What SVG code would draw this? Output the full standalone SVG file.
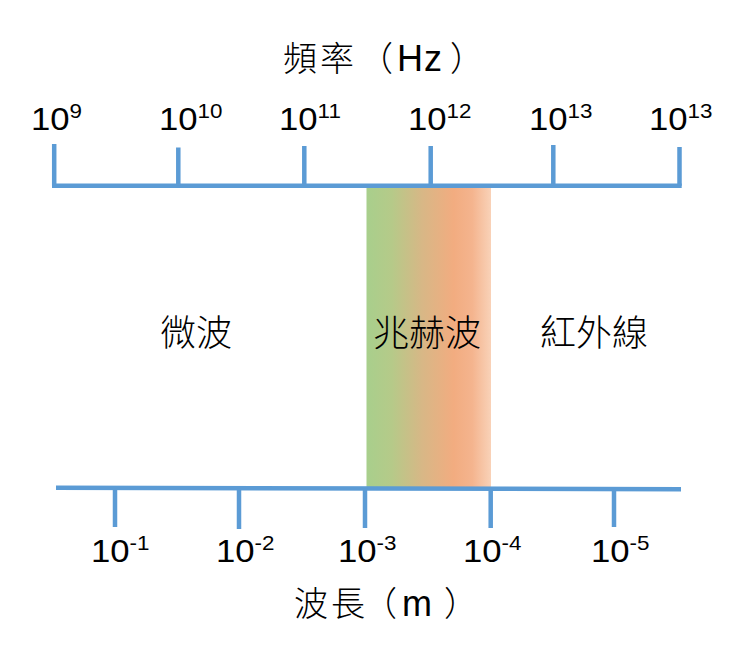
<svg xmlns="http://www.w3.org/2000/svg" width="740" height="666" viewBox="0 0 740 666">
<defs>
<linearGradient id="thz" x1="0" y1="0" x2="1" y2="0">
<stop offset="0" stop-color="#A8CF8C"/>
<stop offset="0.2" stop-color="#B5CA89"/>
<stop offset="0.45" stop-color="#D8B786"/>
<stop offset="0.7" stop-color="#F2AC80"/>
<stop offset="0.85" stop-color="#F4B48E"/>
<stop offset="1" stop-color="#F9D2B8"/>
</linearGradient>
<style>
.ax{stroke:#5B9BD5;stroke-width:4.5;fill:none;stroke-linecap:butt}
.num{font-family:"Liberation Sans",Arial,sans-serif;font-size:31px;fill:#000}
.sup{font-size:20px}
.cjk{font-family:"Noto Sans CJK TC","Noto Sans CJK SC",sans-serif;font-weight:300;fill:#000}
.lat{font-family:"Liberation Sans",Arial,sans-serif;font-weight:400;font-size:36px}
.region{font-size:36px;text-anchor:middle}
.title{font-size:34px}
</style>
</defs>
<rect width="740" height="666" fill="#fff"/>
<g id="thz-band"><rect x="366.5" y="187.5" width="124.5" height="300" fill="url(#thz)"/></g>
<g id="connectors">
<path class="ax" d="M52 185.7 H681.7"/>
<path class="ax" d="M54.2 144 V185.7 M178.3 147.5 V185.7 M304.3 146 V185.7 M430.7 146 V185.7 M553.3 145 V185.7 M679.5 147 V185.7"/>
<path class="ax" d="M56 487.7 L681 489.3"/>
<path class="ax" d="M115 487.8 V527 M239 488 V529 M365 488.2 V528 M490.7 488.6 V528 M614 488.9 V527"/>
</g>
<g id="title-freq"><text class="cjk title" y="71"><tspan x="283">頻</tspan><tspan x="320">率</tspan><tspan x="359">（</tspan><tspan class="lat" x="397">H</tspan><tspan class="lat" x="424">z</tspan><tspan x="450">）</tspan></text></g>
<g id="freq-labels">
<g id="f9"><text class="num" transform="translate(31,130) scale(1.12,1)">10<tspan class="sup" dy="-12">9</tspan></text></g>
<g id="f10"><text class="num" transform="translate(159,130) scale(1.12,1)">10<tspan class="sup" dy="-12">10</tspan></text></g>
<g id="f11"><text class="num" transform="translate(279,130) scale(1.12,1)">10<tspan class="sup" dy="-12">11</tspan></text></g>
<g id="f12"><text class="num" transform="translate(408,130) scale(1.12,1)">10<tspan class="sup" dy="-12">12</tspan></text></g>
<g id="f13a"><text class="num" transform="translate(529,130) scale(1.12,1)">10<tspan class="sup" dy="-12">13</tspan></text></g>
<g id="f13b"><text class="num" transform="translate(649,130) scale(1.12,1)">10<tspan class="sup" dy="-12">13</tspan></text></g>
</g>
<g id="microwave"><text class="cjk region" x="196" y="346">微波</text></g>
<g id="terahertz"><text class="cjk region" x="427" y="346">兆赫波</text></g>
<g id="infrared"><text class="cjk region" x="594" y="346">紅外線</text></g>
<g id="wave-labels">
<g id="w1"><text class="num" transform="translate(91,562) scale(1.12,1)">10<tspan class="sup" dy="-12">-1</tspan></text></g>
<g id="w2"><text class="num" transform="translate(216,562) scale(1.12,1)">10<tspan class="sup" dy="-12">-2</tspan></text></g>
<g id="w3"><text class="num" transform="translate(338,562) scale(1.12,1)">10<tspan class="sup" dy="-12">-3</tspan></text></g>
<g id="w4"><text class="num" transform="translate(463,562) scale(1.12,1)">10<tspan class="sup" dy="-12">-4</tspan></text></g>
<g id="w5"><text class="num" transform="translate(591,562) scale(1.12,1)">10<tspan class="sup" dy="-12">-5</tspan></text></g>
</g>
<g id="title-wave"><text class="cjk title" y="616"><tspan x="294">波</tspan><tspan x="331">長</tspan><tspan x="363">（</tspan><tspan class="lat" x="402">m</tspan><tspan x="444">）</tspan></text></g>
</svg>
